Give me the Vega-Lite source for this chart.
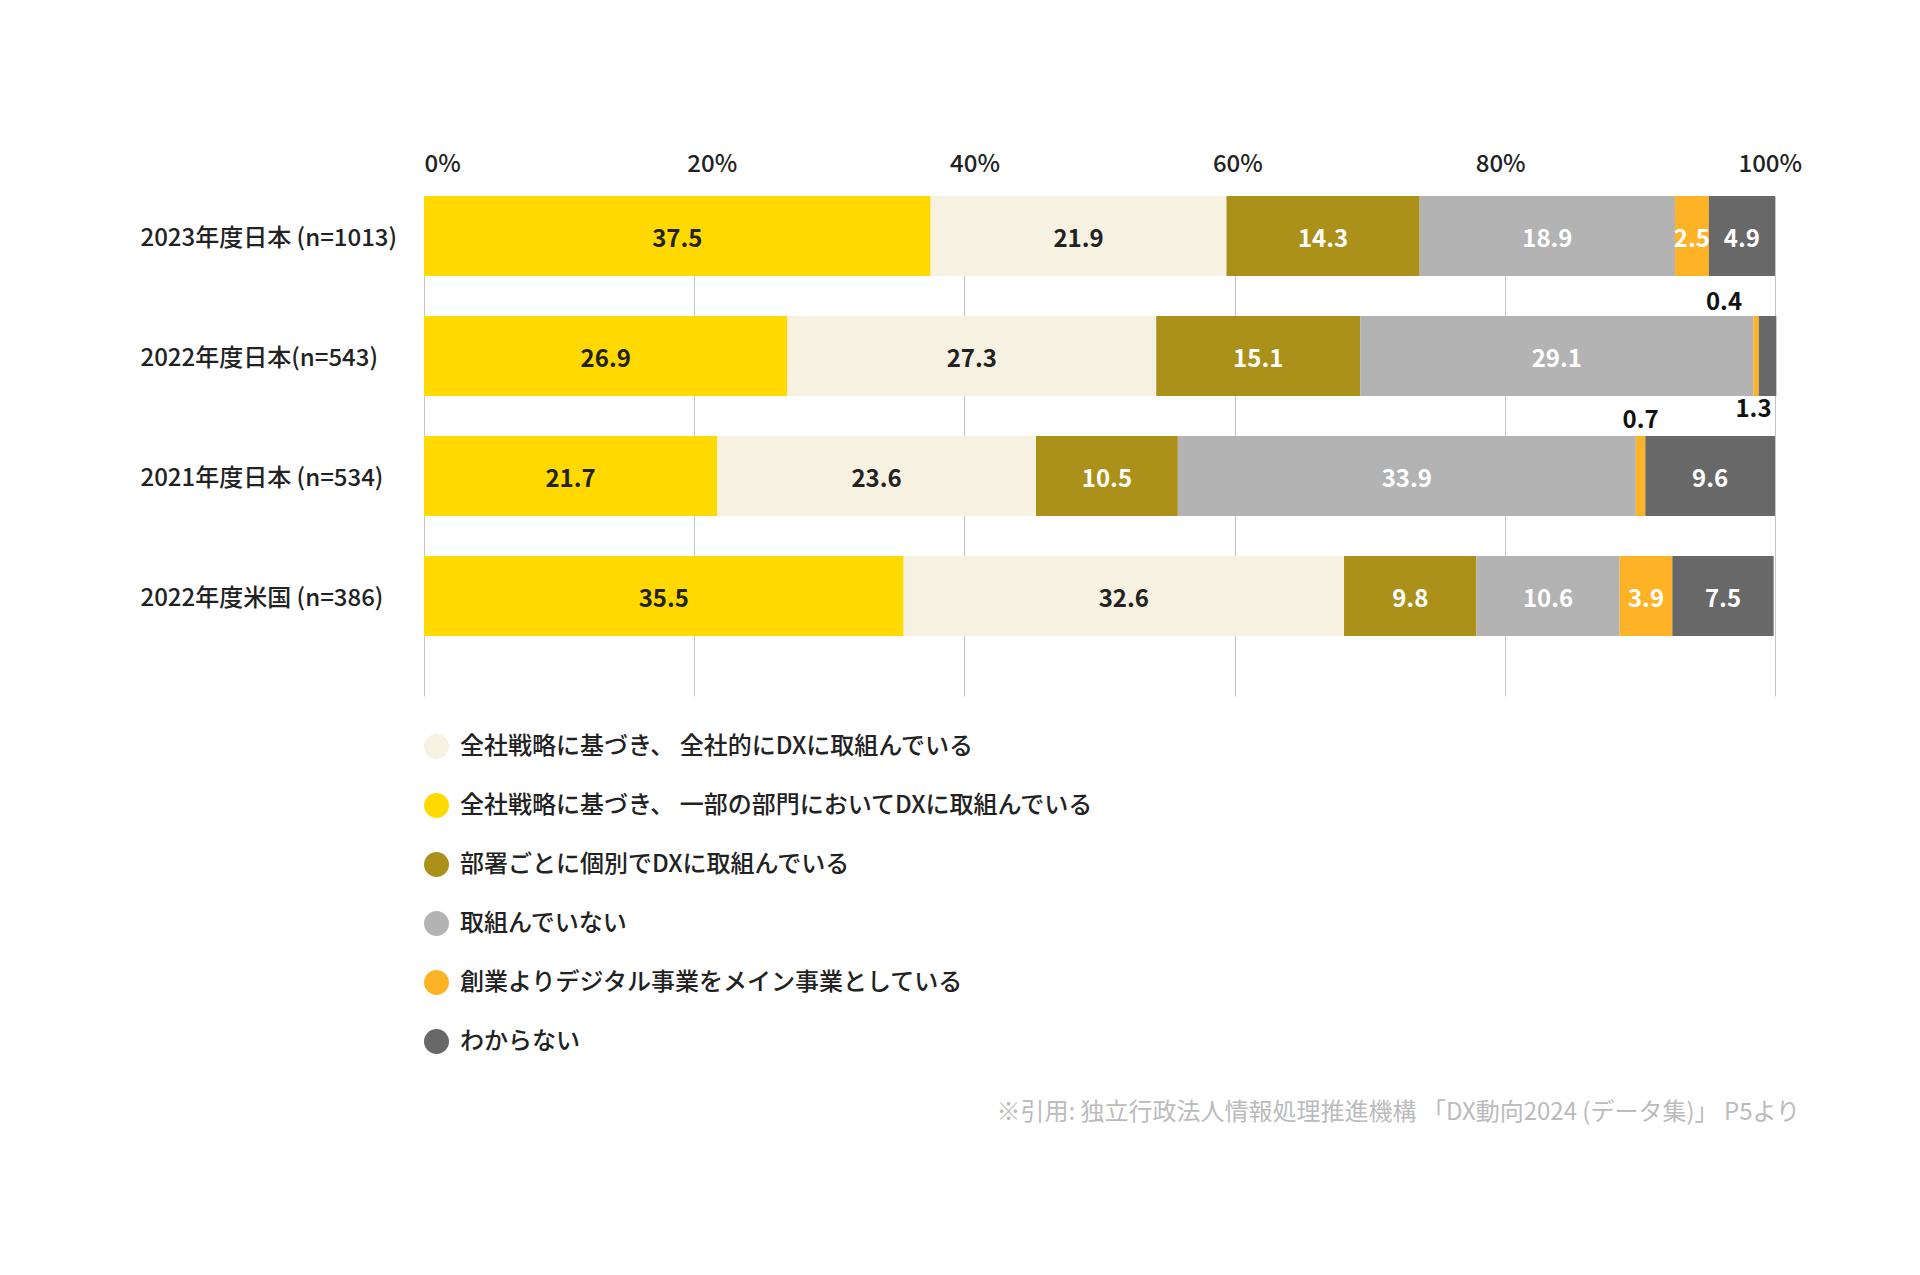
{
  "$schema": "https://vega.github.io/schema/vega-lite/v6.json",
  "width": 1351,
  "height": 500,
  "autosize": {"type": "none"},
  "padding": {"left": 424, "top": 196, "right": 145, "bottom": 579},
  "background": "white",
  "config": {
    "font": "Noto Sans CJK JP",
    "view": {"stroke": null},
    "legend": {
      "orient": "none", "legendX": 0, "legendY": 538, "direction": "vertical",
      "symbolType": "circle", "symbolSize": 625, "symbolStrokeWidth": 0, "symbolOpacity": 1,
      "labelFontSize": 24, "labelFontWeight": 500, "labelColor": "#222222", "labelOffset": 11, "labelLimit": 1000,
      "rowPadding": 34, "padding": 0
    }
  },
  "title": {
    "text": "※引用: 独立行政法人情報処理推進機構 「DX動向2024 (データ集)」 P5より",
    "orient": "bottom", "anchor": "end", "frame": "group", "fontSize": 24,
    "fontWeight": "normal", "color": "#BBBBBB", "dx": 25, "offset": 47
  },
  "data": {
    "values": [
      {"g": "2023年度日本 (n=1013)", "c": "全社戦略に基づき、 一部の部門においてDXに取組んでいる", "o": 1, "v": 37.5},
      {"g": "2023年度日本 (n=1013)", "c": "全社戦略に基づき、 全社的にDXに取組んでいる", "o": 2, "v": 21.9},
      {"g": "2023年度日本 (n=1013)", "c": "部署ごとに個別でDXに取組んでいる", "o": 3, "v": 14.3},
      {"g": "2023年度日本 (n=1013)", "c": "取組んでいない", "o": 4, "v": 18.9},
      {"g": "2023年度日本 (n=1013)", "c": "創業よりデジタル事業をメイン事業としている", "o": 5, "v": 2.5},
      {"g": "2023年度日本 (n=1013)", "c": "わからない", "o": 6, "v": 4.9},
      {"g": "2022年度日本(n=543)", "c": "全社戦略に基づき、 一部の部門においてDXに取組んでいる", "o": 1, "v": 26.9},
      {"g": "2022年度日本(n=543)", "c": "全社戦略に基づき、 全社的にDXに取組んでいる", "o": 2, "v": 27.3},
      {"g": "2022年度日本(n=543)", "c": "部署ごとに個別でDXに取組んでいる", "o": 3, "v": 15.1},
      {"g": "2022年度日本(n=543)", "c": "取組んでいない", "o": 4, "v": 29.1},
      {"g": "2022年度日本(n=543)", "c": "創業よりデジタル事業をメイン事業としている", "o": 5, "v": 0.4},
      {"g": "2022年度日本(n=543)", "c": "わからない", "o": 6, "v": 1.3},
      {"g": "2021年度日本 (n=534)", "c": "全社戦略に基づき、 一部の部門においてDXに取組んでいる", "o": 1, "v": 21.7},
      {"g": "2021年度日本 (n=534)", "c": "全社戦略に基づき、 全社的にDXに取組んでいる", "o": 2, "v": 23.6},
      {"g": "2021年度日本 (n=534)", "c": "部署ごとに個別でDXに取組んでいる", "o": 3, "v": 10.5},
      {"g": "2021年度日本 (n=534)", "c": "取組んでいない", "o": 4, "v": 33.9},
      {"g": "2021年度日本 (n=534)", "c": "創業よりデジタル事業をメイン事業としている", "o": 5, "v": 0.7},
      {"g": "2021年度日本 (n=534)", "c": "わからない", "o": 6, "v": 9.6},
      {"g": "2022年度米国 (n=386)", "c": "全社戦略に基づき、 一部の部門においてDXに取組んでいる", "o": 1, "v": 35.5},
      {"g": "2022年度米国 (n=386)", "c": "全社戦略に基づき、 全社的にDXに取組んでいる", "o": 2, "v": 32.6},
      {"g": "2022年度米国 (n=386)", "c": "部署ごとに個別でDXに取組んでいる", "o": 3, "v": 9.8},
      {"g": "2022年度米国 (n=386)", "c": "取組んでいない", "o": 4, "v": 10.6},
      {"g": "2022年度米国 (n=386)", "c": "創業よりデジタル事業をメイン事業としている", "o": 5, "v": 3.9},
      {"g": "2022年度米国 (n=386)", "c": "わからない", "o": 6, "v": 7.5}
    ]
  },
  "transform": [
    {"stack": "v", "groupby": ["g"], "sort": [{"field": "o", "order": "ascending"}], "as": ["x0", "x1"]},
    {"calculate": "(datum.x0 + datum.x1) / 2", "as": "mid"}
  ],
  "encoding": {
    "y": {
      "field": "g", "type": "nominal",
      "sort": ["2023年度日本 (n=1013)", "2022年度日本(n=543)", "2021年度日本 (n=534)", "2022年度米国 (n=386)"],
      "scale": {"paddingInner": 0.3333, "paddingOuter": 0.25, "align": 0},
      "axis": {"title": null, "domain": false, "ticks": false, "labelAlign": "left", "labelPadding": 284,
               "labelFontSize": 24, "labelFontWeight": 500, "labelColor": "#222222", "labelLimit": 400, "labelOffset": 3}
    }
  },
  "layer": [
    {
      "mark": {"type": "bar"},
      "encoding": {
        "x": {
          "field": "x0", "type": "quantitative",
          "scale": {"domain": [0, 100], "nice": false},
          "axis": {"title": null, "orient": "top", "values": [0, 20, 40, 60, 80, 100], "domain": false, "ticks": false,
                   "labelExpr": "datum.value + '%'", "labelFontSize": 24, "labelFontWeight": 500, "labelColor": "#222222",
                   "labelAlign": "left", "labelOffset": {"expr": "-datum.value * 0.37"}, "labelPadding": 20,
                   "labelFlush": false, "gridColor": "#C4C4C4", "gridWidth": 1}
        },
        "x2": {"field": "x1"},
        "color": {
          "field": "c", "type": "nominal", "title": null,
          "scale": {
            "domain": ["全社戦略に基づき、 全社的にDXに取組んでいる", "全社戦略に基づき、 一部の部門においてDXに取組んでいる", "部署ごとに個別でDXに取組んでいる", "取組んでいない", "創業よりデジタル事業をメイン事業としている", "わからない"],
            "range": ["#F6F1E1", "#FFD900", "#AB911A", "#B3B3B3", "#FDB325", "#686868"]
          }
        }
      }
    },
    {
      "transform": [{"filter": "datum.v >= 2"}],
      "mark": {"type": "text", "fontSize": 24, "fontWeight": "bold", "baseline": "middle", "align": "center", "dy": 4},
      "encoding": {
        "x": {"field": "mid", "type": "quantitative"},
        "text": {"field": "v", "type": "quantitative", "format": ".1f"},
        "color": {"condition": {"test": "datum.o <= 2", "value": "#222222"}, "value": "#FFFFFF"}
      }
    },
    {
      "transform": [{"filter": "datum.v < 2 && datum.o == 5 && datum.g == '2022年度日本(n=543)'"}],
      "mark": {"type": "text", "fontSize": 24, "fontWeight": "bold", "baseline": "alphabetic", "align": "right", "dx": -14, "dy": -46, "color": "#111111"},
      "encoding": {
        "x": {"field": "mid", "type": "quantitative"},
        "text": {"field": "v", "type": "quantitative", "format": ".1f"}
      }
    },
    {
      "transform": [{"filter": "datum.v < 2 && datum.o == 5 && datum.g == '2021年度日本 (n=534)'"}],
      "mark": {"type": "text", "fontSize": 24, "fontWeight": "bold", "baseline": "alphabetic", "align": "center", "dy": -48, "color": "#111111"},
      "encoding": {
        "x": {"field": "mid", "type": "quantitative"},
        "text": {"field": "v", "type": "quantitative", "format": ".1f"}
      }
    },
    {
      "transform": [{"filter": "datum.v < 2 && datum.o == 6"}],
      "mark": {"type": "text", "fontSize": 24, "fontWeight": "bold", "baseline": "alphabetic", "align": "right", "dx": 4, "dy": 61, "color": "#111111"},
      "encoding": {
        "x": {"field": "mid", "type": "quantitative"},
        "text": {"field": "v", "type": "quantitative", "format": ".1f"}
      }
    }
  ]
}
